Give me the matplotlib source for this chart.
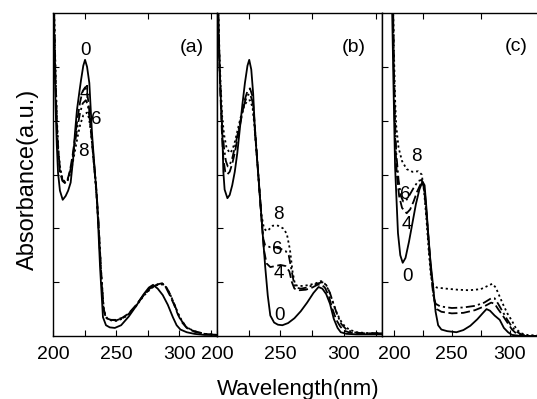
import numpy as np
import matplotlib
matplotlib.use('Agg')
import matplotlib.pyplot as plt

plt.rcParams['font.family'] = ['Liberation Sans', 'DejaVu Sans']

# ---- panel (a) ----
wl_a0 = [200, 201, 202, 203, 204, 205.5, 207.7, 210, 212, 214, 216, 217.4, 219, 221, 222.2, 224,
         225.4, 227, 228.8, 230.9, 233, 234.9, 237.3, 239.6, 242, 245, 249, 254, 260, 266, 272,
         276, 279.3, 283, 287, 291, 295, 298, 301, 306, 312, 320, 330]
abs_a0 = [7.0, 5.4, 4.3, 3.55, 3.03, 2.7, 2.53, 2.6, 2.7, 2.85, 3.3, 3.77, 4.2, 4.55, 4.75, 5.02,
          5.13, 5.0, 4.7, 3.77, 3.1, 2.53, 1.28, 0.35, 0.2, 0.16, 0.15, 0.2, 0.36, 0.56, 0.78,
          0.9, 0.95, 0.88, 0.76, 0.58, 0.35, 0.2, 0.12, 0.07, 0.04, 0.02, 0.02]

wl_a4 = [200, 201, 202, 203, 204, 205.5, 207.5, 209.5, 211.5, 213.5, 215.5, 217.5, 219.5, 221.5,
         223.5, 225.5, 227, 228.5, 230, 232, 234, 236, 238, 240, 242, 246, 250, 255, 260, 266,
         272, 278, 283, 286.5, 289.5, 292.5, 296, 299, 302, 306, 312, 320, 330]
abs_a4 = [7.5, 5.8, 4.7, 3.95, 3.45, 3.05, 2.88, 2.84, 2.9, 3.08, 3.35, 3.7, 4.05, 4.35,
          4.55, 4.62, 4.55, 4.25, 3.85, 3.3, 2.8, 2.1, 1.2, 0.5, 0.33, 0.3, 0.3, 0.34, 0.42, 0.58,
          0.77, 0.91, 0.96, 0.98, 0.9, 0.76, 0.58, 0.4, 0.26, 0.15, 0.08, 0.04, 0.02]

wl_a6 = [200, 201, 202, 203, 204, 205.5, 207.5, 209.5, 211.5, 213.5, 215.5, 217.5, 219.5, 221.5,
         223.5, 226, 227.5, 229, 230.5, 232, 234, 236, 238, 240, 242, 246, 250, 255, 260, 266,
         272, 278, 283, 287, 290, 293, 296, 299, 302, 306, 312, 320, 330]
abs_a6 = [7.5, 5.9, 4.8, 4.0, 3.5, 3.1, 2.9, 2.85, 2.9, 3.05, 3.3, 3.6, 3.9, 4.15,
          4.32, 4.38, 4.3, 4.05, 3.75, 3.35, 2.85, 2.15, 1.25, 0.52, 0.34, 0.3, 0.29, 0.33, 0.41, 0.57,
          0.76, 0.9, 0.96, 0.97, 0.9, 0.77, 0.6, 0.42, 0.28, 0.16, 0.09, 0.04, 0.02]

wl_a8 = [200, 201, 202, 203, 204, 205.5, 207.5, 209.5, 211.5, 213.5, 215.5, 217.5, 219.5, 221.5,
         224, 227, 228.5, 230, 231.5, 233, 234.5, 236.5, 238.5, 240.5, 243, 246, 250, 255, 260,
         266, 272, 278, 283, 287.5, 290.5, 293.5, 296.5, 299.5, 302.5, 306, 312, 320, 330]
abs_a8 = [7.5, 6.0, 4.9, 4.1, 3.55, 3.15, 2.92, 2.86, 2.88, 3.0, 3.2, 3.45, 3.7, 3.92,
          4.1, 4.15, 4.05, 3.8, 3.45, 3.05, 2.6, 1.9, 1.05, 0.45, 0.32, 0.29, 0.28, 0.32, 0.4,
          0.56, 0.75, 0.89, 0.95, 0.96, 0.88, 0.74, 0.57, 0.4, 0.27, 0.16, 0.09, 0.04, 0.02]

# ---- panel (b) ----
wl_b0 = [200, 201, 202, 203, 204.2, 205, 206, 208.2, 210, 212, 214, 216, 218, 220, 222, 224,
         225.4, 227, 228.5, 230, 232, 234, 236, 238, 240, 242, 245, 248, 251.5, 256, 261, 266,
         271, 276, 280, 283, 286, 289, 292, 295, 297.5, 302, 310, 330]
abs_b0 = [7.5, 5.8, 5.0, 4.4, 3.77, 3.05, 2.72, 2.56, 2.62, 2.8, 3.05, 3.4, 3.85, 4.3, 4.7, 5.02,
          5.13, 4.95, 4.5, 3.77, 3.15, 2.53, 1.9, 1.28, 0.75, 0.38, 0.25, 0.21, 0.2, 0.24, 0.33, 0.46,
          0.62, 0.8, 0.91, 0.88, 0.78, 0.6, 0.32, 0.15, 0.07, 0.04, 0.03, 0.03]

wl_b4 = [200, 201, 202, 203, 204, 205, 206.5, 208, 210, 212, 214, 216, 218, 220, 222, 224, 226,
         228, 229.5, 231, 233, 235, 237, 239, 242, 246, 250, 254, 257, 259, 261, 265, 270, 275,
         279, 282, 285, 288, 291, 294, 297, 300, 305, 312, 320, 330]
abs_b4 = [7.5, 6.0, 5.0, 4.3, 3.7, 3.3, 3.05, 3.0, 3.05, 3.2, 3.4, 3.65, 3.9, 4.15, 4.4, 4.55, 4.6,
          4.45, 4.0, 3.5, 2.85, 2.2, 1.6, 1.35, 1.28, 1.3, 1.32, 1.3, 1.2, 1.0, 0.88, 0.85, 0.86, 0.9,
          0.95, 0.96, 0.9, 0.75, 0.5, 0.3, 0.18, 0.1, 0.06, 0.05, 0.05, 0.05]

wl_b6 = [200, 201, 202, 203, 204, 205.5, 207, 208.5, 210, 212, 214, 216, 218, 220, 222, 224, 226,
         228, 229.5, 231, 233, 235, 236.5, 238, 242, 246, 250, 254, 256.5, 258.5, 260.5, 262, 266,
         271, 276, 280, 283, 286, 289, 292, 295, 298, 302, 307, 315, 330]
abs_b6 = [7.5, 6.0, 5.1, 4.4, 3.9, 3.5, 3.25, 3.15, 3.18, 3.3, 3.5, 3.72, 3.95, 4.15, 4.35, 4.47, 4.5,
          4.35, 3.95, 3.5, 2.85, 2.2, 1.8, 1.68, 1.65, 1.65, 1.62, 1.58, 1.5, 1.25, 1.0, 0.9, 0.88,
          0.9, 0.95, 0.98, 1.0, 0.95, 0.8, 0.58, 0.38, 0.22, 0.12, 0.07, 0.05, 0.05]

wl_b8 = [200, 201, 202, 203, 204, 205.5, 207.5, 210, 212, 214, 216, 218, 220, 222, 224, 226, 228,
         229.5, 231, 233, 235, 237, 239, 241, 244, 248, 252, 255, 257.5, 259.5, 261.5, 264, 268,
         273, 278, 282, 285, 288, 291, 294, 297, 300, 304, 310, 320, 330]
abs_b8 = [7.5, 6.1, 5.2, 4.6, 4.1, 3.75, 3.5, 3.4, 3.45, 3.6, 3.8, 4.0, 4.18, 4.3, 4.37, 4.38, 4.25,
          3.9, 3.45, 2.85, 2.25, 2.0, 1.95, 1.98, 2.05, 2.05, 2.0, 1.9, 1.6, 1.2, 0.95, 0.93, 0.93,
          0.95, 0.98, 1.02, 0.97, 0.85, 0.65, 0.45, 0.3, 0.2, 0.12, 0.07, 0.05, 0.05]

# ---- panel (c) ----
wl_c0 = [197, 198.5, 199.5, 201, 203.5, 205.5, 207.6, 210, 213, 216, 219, 222, 224.7, 226.5,
         228, 229.6, 231.5, 233.9, 236, 238.2, 241, 246, 254, 260, 266, 272, 277, 280, 283, 287,
         291.4, 295, 298.6, 302, 310, 330]
abs_c0 = [7.5, 6.0, 4.8, 3.14, 1.91, 1.5, 1.36, 1.45, 1.75, 2.1, 2.45, 2.72, 2.87, 2.8,
          2.4, 1.91, 1.4, 0.92, 0.45, 0.2, 0.12, 0.09, 0.07, 0.11, 0.19, 0.31, 0.43, 0.5, 0.47, 0.38,
          0.3, 0.15, 0.07, 0.02, 0.0, 0.0]

wl_c4 = [198, 199, 200, 201, 202.5, 204.5, 207, 211, 214, 217, 220, 223, 225, 227, 229, 231, 233,
         235, 237, 241, 250, 260, 270, 278, 284, 287, 290, 294, 298, 302, 306, 312, 330]
abs_c4 = [7.5, 6.5, 4.8, 3.7, 3.0, 2.6, 2.38, 2.28, 2.35, 2.5, 2.68, 2.82, 2.85, 2.6, 2.05, 1.5, 1.0,
          0.65, 0.5, 0.45, 0.42, 0.43, 0.48, 0.55, 0.62, 0.6, 0.5, 0.38, 0.25, 0.12, 0.04, 0.0, 0.0]

wl_c6 = [198, 199, 200, 201, 202, 204, 206, 208, 210, 213, 217, 221, 224, 226, 228, 230, 232, 234,
         236, 240, 250, 260, 270, 278, 284, 287, 290, 294, 298, 302, 306, 310, 315, 330]
abs_c6 = [7.5, 6.5, 5.0, 4.0, 3.4, 2.9, 2.6, 2.5, 2.5, 2.6, 2.75, 2.88, 2.9, 2.75, 2.3, 1.75, 1.2,
          0.75, 0.6, 0.55, 0.52, 0.53, 0.56, 0.62, 0.7, 0.7, 0.6, 0.45, 0.3, 0.17, 0.08, 0.03, 0.0, 0.0]

wl_c8 = [198, 199, 200, 201, 202, 204, 207, 211, 216, 221, 224, 226, 228, 230, 232, 234, 237, 245,
         255, 265, 275, 281, 285, 288, 291, 294, 298, 302, 306, 310, 315, 330]
abs_c8 = [7.5, 6.5, 5.3, 4.4, 3.9, 3.5, 3.25, 3.1, 3.05, 3.06, 3.0, 2.7, 2.2, 1.6, 1.1, 0.95, 0.9,
          0.88, 0.86, 0.85, 0.87, 0.93, 0.97, 0.9, 0.75, 0.6, 0.42, 0.28, 0.12, 0.05, 0.02, 0.0]

series_labels = ['0', '4', '6', '8']
panel_names = ['(a)', '(b)', '(c)']
x_ticks = [200, 250, 300]

styles = {
    '0': dict(linestyle='-'),
    '4': dict(linestyle=(0, (5, 2))),
    '6': dict(linestyle=(0, (5, 1.8, 1.2, 1.8))),
    '8': dict(linestyle=(0, (1.2, 1.6))),
}

# where the hour numbers sit, data coords (x, y) per panel
label_pos = {
    0: {'0': (225.4, 5.31), '4': (225.4, 4.51), '6': (234.1, 4.03), '8': (223.8, 3.42)},
    1: {'8': (248.4, 2.25), '6': (247.6, 1.60), '4': (248.4, 1.17), '0': (249.1, 0.39)},
    2: {'8': (219.8, 3.33), '6': (209.5, 2.62), '4': (211.2, 2.08), '0': (212.1, 1.10)},
}
tag_pos = [(310.2, 5.35), (307.8, 5.35), (306.0, 5.37)]

data = [
    [(wl_a0, abs_a0), (wl_a4, abs_a4), (wl_a6, abs_a6), (wl_a8, abs_a8)],
    [(wl_b0, abs_b0), (wl_b4, abs_b4), (wl_b6, abs_b6), (wl_b8, abs_b8)],
    [(wl_c0, abs_c0), (wl_c4, abs_c4), (wl_c6, abs_c6), (wl_c8, abs_c8)],
]

fig = plt.figure(figsize=(5.37, 3.99), dpi=100)

bot = 63 / 399
hgt = 323 / 399
boxes = [
    [53 / 537, bot, 164 / 537, hgt],
    [217 / 537, bot, 165 / 537, hgt],
    [382 / 537, bot, 162.4 / 537, hgt],
]
xlims = [(200, 330), (200, 330), (189.7, 330)]

for i, box in enumerate(boxes):
    ax = fig.add_axes(box)
    for lab, (x, y) in zip(series_labels, data[i]):
        ax.plot(x, y, color='black', lw=1.3, **styles[lab])
    for lab, (tx, ty) in label_pos[i].items():
        ax.text(tx, ty, lab, fontsize=13.5, ha='center', va='center')
    ax.text(tag_pos[i][0], tag_pos[i][1], panel_names[i], fontsize=14,
            ha='center', va='center')

    ax.set_xlim(xlims[i])
    ax.set_ylim(0, 6)
    ax.set_xticks(x_ticks)
    ax.set_xticks([225, 275, 325], minor=True)
    ax.set_yticks([1, 2, 3, 4, 5])
    ax.set_yticklabels([])
    ax.tick_params(axis='x', which='both', direction='in', length=4, width=0.8,
                   labelsize=14, pad=7, top=False)
    ax.tick_params(axis='x', which='minor', top=True)
    ax.tick_params(axis='y', direction='in', length=4, width=0.8)
    for s in ax.spines.values():
        s.set_linewidth(1.0)

fig.text(28 / 537, 1 - 179 / 399, 'Absorbance(a.u.)', rotation=90,
         fontsize=17, ha='center', va='center')
fig.text(298.5 / 537, 1 - 390 / 399, 'Wavelength(nm)', fontsize=16,
         ha='center', va='center')

plt.savefig('out.png', dpi=100)
plt.close()
